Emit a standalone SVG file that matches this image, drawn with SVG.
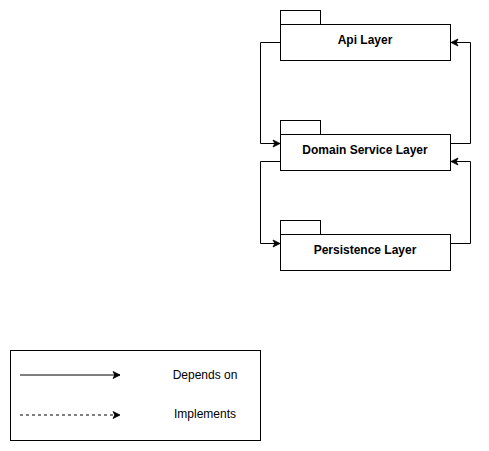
<svg xmlns="http://www.w3.org/2000/svg" width="489" height="451" viewBox="0 0 489 451">
<style>
.box{fill:#fff;stroke:#000;stroke-width:1}
.lbl{font-family:"Liberation Sans",Arial,sans-serif;font-size:12px;font-weight:bold;text-anchor:middle;dominant-baseline:central;fill:#000}
.leg{font-family:"Liberation Sans",Arial,sans-serif;font-size:12px;text-anchor:middle;dominant-baseline:central;fill:#000}
.con{fill:none;stroke:#000;stroke-width:1}
</style>
<defs>
<marker id="arr" markerUnits="userSpaceOnUse" markerWidth="10" markerHeight="10" viewBox="0 0 10 10" refX="8" refY="5" orient="auto">
<path d="M1,1.5 L8,5 L1,8.5 L2.8,5 Z" fill="#000" stroke="#000" stroke-width="0.8"/>
</marker>
</defs>
<rect width="489" height="451" fill="#fff"/>
<g id="api-layer">
<rect class="box" x="280.5" y="10.5" width="40" height="14"/>
<rect class="box" x="280.5" y="24.5" width="170" height="36"/>
<text class="lbl" x="365" y="40">Api Layer</text>
</g>
<g id="domain-service-layer">
<rect class="box" x="280.5" y="120.5" width="40" height="14"/>
<rect class="box" x="280.5" y="134.5" width="170" height="36"/>
<text class="lbl" x="365" y="150">Domain Service Layer</text>
</g>
<g id="persistence-layer">
<rect class="box" x="280.5" y="220.5" width="40" height="14"/>
<rect class="box" x="280.5" y="234.5" width="170" height="36"/>
<text class="lbl" x="365" y="250">Persistence Layer</text>
</g>
<g id="connectors">
<path class="con" d="M280.5,42.5 H260.5 V143.5 H280" marker-end="url(#arr)"/>
<path class="con" d="M450.5,143.5 H470.5 V42.5 H451" marker-end="url(#arr)"/>
<path class="con" d="M280.5,161.5 H260.5 V243.5 H280" marker-end="url(#arr)"/>
<path class="con" d="M450.5,243.5 H470.5 V161.5 H451" marker-end="url(#arr)"/>
</g>
<g id="legend">
<rect class="box" x="10.5" y="350.5" width="250" height="90"/>
<path class="con" d="M20,375 H120" marker-end="url(#arr)"/>
<text class="leg" x="205" y="375">Depends on</text>
<path class="con" d="M20,415 H120" stroke-dasharray="3 3" marker-end="url(#arr)"/>
<text class="leg" x="205" y="414">Implements</text>
</g>
</svg>
